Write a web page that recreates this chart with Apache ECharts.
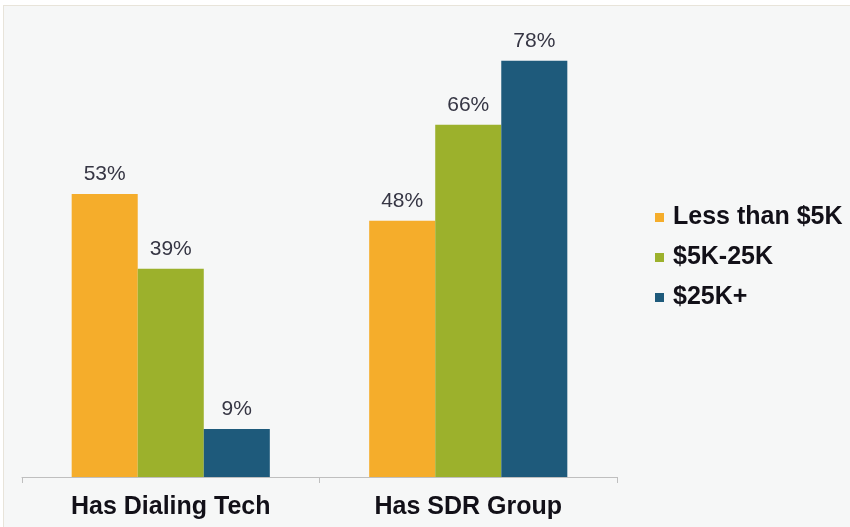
<!DOCTYPE html>
<html>
<head>
<meta charset="utf-8">
<script src="https://cdn.jsdelivr.net/npm/echarts@6/dist/echarts.min.js"></script>
<style>
html,body{margin:0;padding:0;background:#ffffff;}
#wrap{position:absolute;left:3px;top:5px;width:847px;height:522px;background:#f6f7f7;border-top:1px solid #e8e4da;border-left:1px solid #e8e4da;box-sizing:border-box;}
#chart{position:absolute;left:0;top:0;width:850px;height:527px;}
</style>
</head>
<body>
<div id="wrap"></div>
<div id="chart"></div>
<script>
const categories = ['Has Dialing Tech', 'Has SDR Group'];
const seriesNames = ['Less than $5K', '$5K-25K', '$25K+'];
const lessThan5K = [53, 48];
const from5Kto25K = [39, 66];
const over25K = [9, 78];
const colors = ['#F5AD2B', '#9CB12C', '#1E5A7B'];

const seriesData = [lessThan5K, from5Kto25K, over25K];
const chart = echarts.init(document.getElementById('chart'));
chart.setOption({
  backgroundColor: 'transparent',
  animation: false,
  color: colors,
  grid: { left: 22, right: 233, top: 50, bottom: 50, containLabel: false },
  legend: {
    orient: 'vertical',
    left: 655,
    top: 205,
    padding: 0,
    itemWidth: 9,
    itemHeight: 9,
    itemGap: 15,
    icon: 'rect',
    textStyle: { fontFamily: 'Liberation Sans, Arial', fontWeight: 'bold', fontSize: 25, color: '#121018', padding: [0, 0, 0, 4] },
    data: seriesNames
  },
  xAxis: {
    type: 'category',
    data: categories,
    axisLine: { lineStyle: { color: '#bfbfbf', width: 1 } },
    axisTick: { show: true, length: 6, lineStyle: { color: '#bfbfbf' } },
    axisLabel: { fontFamily: 'Liberation Sans, Arial', fontWeight: 'bold', fontSize: 25, color: '#121018', margin: 18 }
  },
  yAxis: {
    type: 'value',
    min: 0,
    max: 80,
    show: false,
    splitLine: { show: false }
  },
  series: seriesData.map((d, i) => ({
    name: seriesNames[i],
    type: 'bar',
    data: d,
    barGap: '0%',
    barCategoryGap: '33.4%',
    label: {
      show: true,
      position: 'top',
      distance: 9,
      formatter: '{c}%',
      fontFamily: 'Liberation Sans, Arial',
      fontSize: 21,
      color: '#363644'
    }
  }))
});
</script>
</body>
</html>
